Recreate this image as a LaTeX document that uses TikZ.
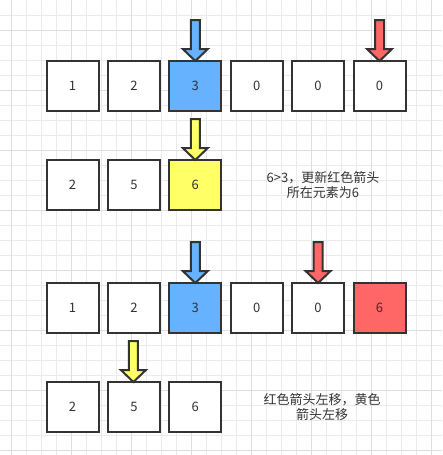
\documentclass[tikz,border=0pt]{standalone}
\usepackage{fontspec}
\setmainfont{Noto Sans CJK SC}
\definecolor{linec}{HTML}{333333}
\definecolor{textc}{HTML}{333333}
\definecolor{bluec}{HTML}{66B2FF}
\definecolor{redc}{HTML}{FF6666}
\definecolor{yellowc}{HTML}{FFFF66}
\definecolor{gridminor}{HTML}{EBEBEB}
\definecolor{gridmajor}{HTML}{DEDEDE}
\begin{document}
\begin{tikzpicture}[x=1pt,y=-1pt,
  cell/.style={draw=linec, fill=white, line width=2pt, minimum width=52pt, minimum height=49.5pt,
    inner sep=0pt, text=textc, font=\fontsize{13}{15}\selectfont},
  note/.style={align=center, text=textc, font=\fontsize{13}{15}\selectfont},
  downarr/.pic={\path[pic actions, line width=2pt, line join=miter]
    (0,0) -- (12.5,-12) -- (4.5,-12) -- (4.5,-41) -- (-4.5,-41) -- (-4.5,-12) -- (-12.5,-12) -- cycle;},
  blueptr/.style={draw=linec, fill=bluec},
  redptr/.style={draw=linec, fill=redc},
  yellowptr/.style={draw=linec, fill=yellowc}
]
\fill[white] (0,0) rectangle (442,455);
\useasboundingbox (0,0) rectangle (442,455);
% grid
\foreach \i in {0,...,28} \draw[gridminor, line width=1pt] ({11.5+15*\i},0) -- ({11.5+15*\i},455);
\foreach \j in {1,...,30} \draw[gridminor, line width=1pt] (0,{15*\j}) -- (442,{15*\j});
\foreach \i in {0,...,7} \draw[gridmajor, line width=1pt] ({11.5+60*\i},0) -- ({11.5+60*\i},455);
\foreach \j in {0,...,7} \draw[gridmajor, line width=1pt] (0,{30+60*\j}) -- (442,{30+60*\j});

% row 1
\node[cell] (r1a) at (72.5,86.2) {1};
\node[cell] (r1b) at (133.9,86.2) {2};
\node[cell, fill=bluec] (r1c) at (195.3,86.2) {3};
\node[cell] (r1d) at (256.7,86.2) {0};
\node[cell] (r1e) at (318.1,86.2) {0};
\node[cell] (r1f) at (379.5,86.2) {0};
\pic[blueptr] (p1) at (195.3,61) {downarr};
\pic[redptr] (p2) at (379.5,61) {downarr};

% row 2
\node[cell] (r2a) at (72.5,185.2) {2};
\node[cell] (r2b) at (133.9,185.2) {5};
\node[cell, fill=yellowc] (r2c) at (195.3,185.2) {6};
\pic[yellowptr] (p3) at (195.3,160) {downarr};
\node[note] (t1) at (323,185) {6>3，更新红色箭头\\所在元素为6};

% row 3
\node[cell] (r3a) at (72.5,308) {1};
\node[cell] (r3b) at (133.9,308) {2};
\node[cell, fill=bluec] (r3c) at (195.3,308) {3};
\node[cell] (r3d) at (256.7,308) {0};
\node[cell] (r3e) at (318.1,308) {0};
\node[cell, fill=redc] (r3f) at (379.5,308) {6};
\pic[blueptr] (p4) at (195.3,283) {downarr};
\pic[redptr] (p5) at (318.1,283) {downarr};

% row 4
\node[cell] (r4a) at (72.5,407.2) {2};
\node[cell] (r4b) at (133.9,407.2) {5};
\node[cell] (r4c) at (195.3,407.2) {6};
\pic[yellowptr] (p6) at (133.4,382) {downarr};
\node[note] (t2) at (322,407.5) {红色箭头左移，黄色\\箭头左移};
\end{tikzpicture}
\end{document}
